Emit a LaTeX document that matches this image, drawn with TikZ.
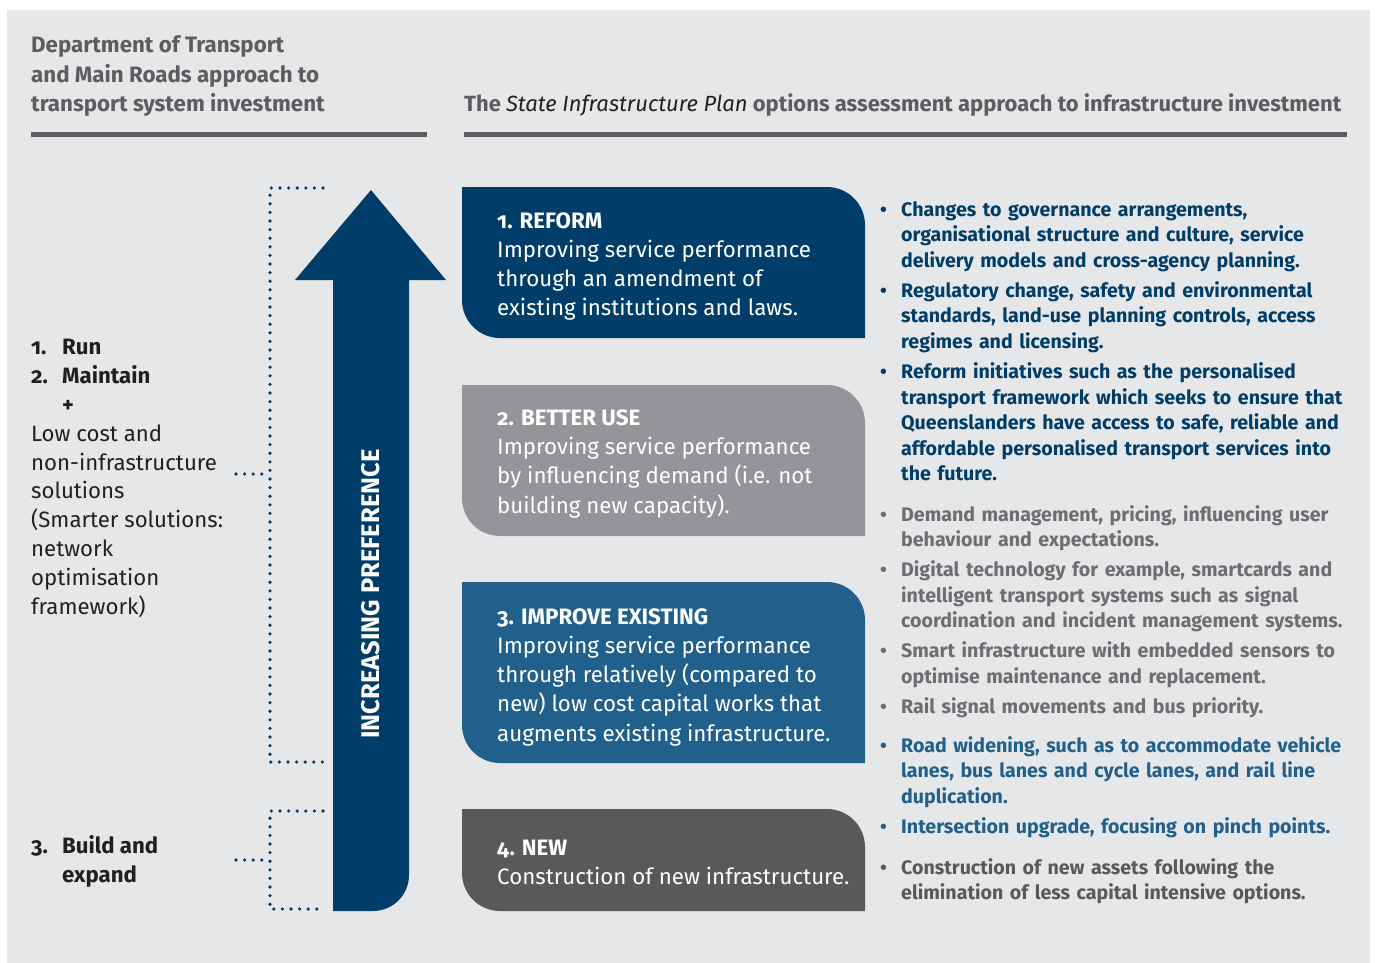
\documentclass[tikz,border=0pt]{standalone}
\usepackage{fontspec}
\setmainfont{Fira Sans}[Numbers=OldStyle]
\usetikzlibrary{positioning}

\definecolor{panel}{HTML}{E6E7E8}
\definecolor{navy}{HTML}{003D69}
\definecolor{midgray}{HTML}{939598}
\definecolor{steel}{HTML}{22608C}
\definecolor{slate}{HTML}{58595B}
\definecolor{hdrgray}{HTML}{5C5D60}
\definecolor{softgray}{HTML}{6D6E71}
\definecolor{ink}{HTML}{231F20}

\newcommand\hdrfont{\fontsize{22.3}{29.5}\selectfont\bfseries}
\newcommand\optfont{\fontsize{22.3}{29.1}\selectfont}
\newcommand\ptsfont{\fontsize{19.6}{25.6}\selectfont\bfseries}
\newcommand\lstfont{\fontsize{22.2}{28.8}\selectfont}
\newcommand\bitem[1]{\hangindent=21pt\hangafter=1\noindent\makebox[21pt][l]{\textbullet}#1\par}
\newcommand\bgap{\vspace{4.4pt}}

\begin{document}
\begin{tikzpicture}[x=1pt, y=1pt,
	hdr/.style={anchor=base west, inner sep=0pt, align=left, text=hdrgray, font=\hdrfont},
	opt/.style={anchor=base west, inner sep=0pt, align=left, text=white, font=\optfont},
	pts/.style={anchor=base west, inner sep=0pt, text width=475pt, align=left, font=\ptsfont, text=#1},
	lst/.style={anchor=base west, inner sep=0pt, align=left, text=ink, font=\lstfont},
	dots/.style={navy, line width=3.6pt, line cap=round, dash pattern=on 0pt off 8.6pt},
	rule/.style={hdrgray, line width=5pt}]
		\useasboundingbox (0,0) rectangle (1375,-963);
		\fill[panel] (7,-10) rectangle (1370,-963);

		% headings (base = last line)
		\node [hdr] (dtmr) at (31,-112) {Department of Transport\\and Main Roads approach to\\transport system investment};
		\node [hdr, font=\fontsize{22}{29.5}\selectfont\bfseries] (sip) at (464,-112) {The {\mdseries\itshape\color{ink}State Infrastructure Plan} options assessment approach to infrastructure investment};
		\draw[rule] (31,-134.5) -- (427,-134.5);
		\draw[rule] (464,-134.5) -- (1347,-134.5);

		% preference arrow
		\fill[navy] (333,-911) -- (333,-280) -- (295,-280) -- (371,-190) -- (446,-280) -- (409,-280)
			-- (409,-875) arc[start angle=0, end angle=-90, radius=36pt] -- cycle;
		\node [rotate=90, text=white, font=\fontsize{25.5}{28}\selectfont\bfseries] (pref) at (371,-594) {INCREASING PREFERENCE};

		% option boxes
		\foreach \c/\t/\b in {navy/187/338, midgray/385/536, steel/582/763, slate/809/911}
			\fill[\c] (462,-\t) -- (827,-\t) arc[start angle=90, end angle=0, radius=38pt]
				-- (865,-\b) -- (500,-\b) arc[start angle=270, end angle=180, radius=38pt] -- cycle;

		\node [opt] (reform) at (497,-315.7) {\textbf{1. REFORM}\\Improving service performance\\through an amendment of\\existing institutions and laws.};
		\node [opt] (better) at (497,-513) {\textbf{2. BETTER USE}\\Improving service performance\\by influencing demand (i.e. not\\building new capacity).};
		\node [opt] (improve) at (497,-741) {\textbf{3. IMPROVE EXISTING}\\Improving service performance\\through relatively (compared to\\new) low cost capital works that\\augments existing infrastructure.};
		\node [opt] (new) at (497,-884.5) {\textbf{4. NEW}\\Construction of new infrastructure.};

		% examples
		\node [pts=navy] (reformpts) at (880,-216) {%
			\bitem{Changes to governance arrangements,\newline organisational structure and culture, service\newline delivery models and cross-agency planning.}\bgap
			\bitem{Regulatory change, safety and environmental\newline standards, land-use planning controls, access\newline regimes and licensing.}\bgap
			\bitem{Reform initiatives such as the personalised\newline transport framework which seeks to ensure that\newline Queenslanders have access to safe, reliable and\newline affordable personalised transport services into\newline the future.}};
		\node [pts=softgray] (betterpts) at (880,-521) {%
			\bitem{Demand management, pricing, influencing user\newline behaviour and expectations.}\bgap
			\bitem{Digital technology for example, smartcards and\newline intelligent transport systems such as signal\newline coordination and incident management systems.}\bgap
			\bitem{Smart infrastructure with embedded sensors to\newline optimise maintenance and replacement.}\bgap
			\bitem{Rail signal movements and bus priority.}};
		\node [pts=steel] (improvepts) at (880,-752) {%
			\bitem{Road widening, such as to accommodate vehicle\newline lanes, bus lanes and cycle lanes, and rail line\newline duplication.}\bgap
			\bitem{Intersection upgrade, focusing on pinch points.}};
		\node [pts=slate] (newpts) at (880,-874) {%
			\bitem{Construction of new assets following the\newline elimination of less capital intensive options.}};

		% transport department activities (base = last line)
		\node [lst] (runmaintain) at (31,-614) {\textbf{\makebox[31pt][l]{1.}Run}\\\textbf{\makebox[31pt][l]{2.}Maintain}\\\hspace*{31pt}\textbf{+}\\Low cost and\\non-infrastructure\\solutions\\(Smarter solutions:\\network\\optimisation\\framework)};
		\node [lst, font=\lstfont\bfseries] (build) at (31,-882) {\makebox[31pt][l]{3.}Build and\\\hspace*{31pt}expand};

		% brackets
		\coordinate (uptop) at (323,-188);
		\coordinate (upbot) at (323,-762);
		\coordinate (uptick) at (236,-474);
		\coordinate (lotop) at (323,-811);
		\coordinate (lobot) at (323,-909);
		\coordinate (lotick) at (236,-860);
		\draw[dots] (uptop) -- (270,-188) -- (270,-762) -- (upbot);
		\draw[dots] (uptick) -- (270,-474);
		\draw[dots] (lotop) -- (270,-811) -- (270,-909) -- (lobot);
		\draw[dots] (lotick) -- (270,-860);
	\end{tikzpicture}
\end{document}
